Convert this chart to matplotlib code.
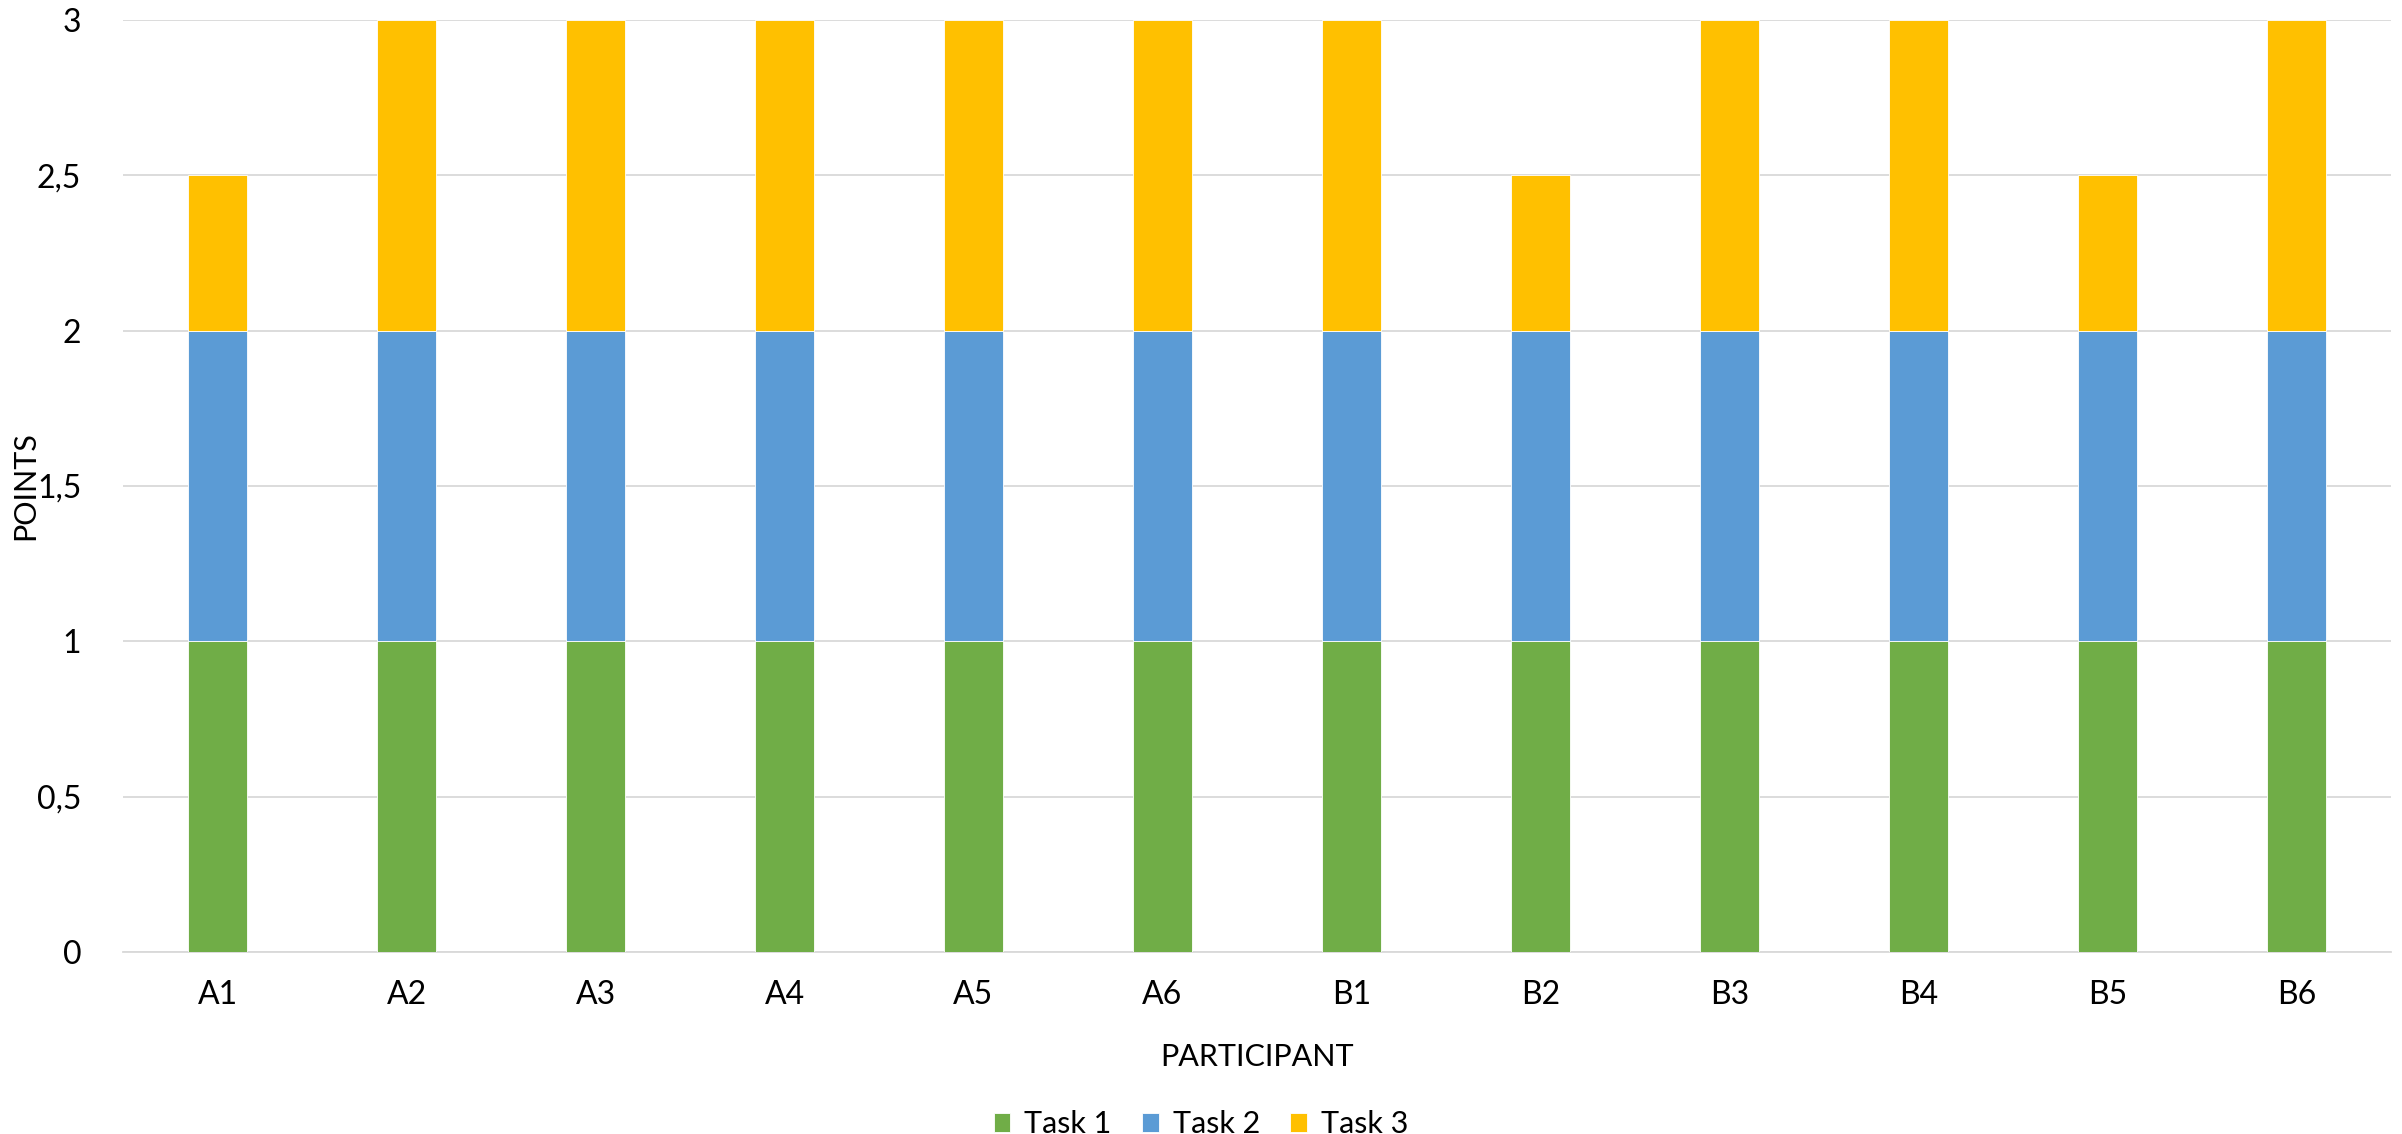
import numpy as np
import matplotlib.pyplot as plt
from matplotlib.ticker import FuncFormatter

plt.rcParams['font.family'] = ['Lato', 'DejaVu Sans']

participants = ['A1', 'A2', 'A3', 'A4', 'A5', 'A6', 'B1', 'B2', 'B3', 'B4', 'B5', 'B6']
task1 = [1, 1, 1, 1, 1, 1, 1, 1, 1, 1, 1, 1]
task2 = [1, 1, 1, 1, 1, 1, 1, 1, 1, 1, 1, 1]
task3 = [0.5, 1, 1, 1, 1, 1, 1, 0.5, 1, 1, 0.5, 1]

colors = ['#70AD47', '#5B9BD5', '#FFC000']

fig = plt.figure(figsize=(24.02, 11.34), dpi=100)
ax = fig.add_axes([0.0512, 0.1605, 0.9442, 0.8219])

x = np.arange(len(participants))
w = 0.31
b1 = ax.bar(x, task1, w, color=colors[0], edgecolor='white', linewidth=0.6, label='Task 1', zorder=3)
b2 = ax.bar(x, task2, w, bottom=task1, color=colors[1], edgecolor='white', linewidth=0.6, label='Task 2', zorder=3)
bottom3 = np.array(task1) + np.array(task2)
b3 = ax.bar(x, task3, w, bottom=bottom3, color=colors[2], edgecolor='white', linewidth=0.6, label='Task 3', zorder=3)

ax.set_xlim(-0.5, len(participants) - 0.5)
ax.set_ylim(0, 3)
ax.set_yticks(np.arange(0, 3.01, 0.5))
ax.yaxis.set_major_formatter(FuncFormatter(lambda v, p: ('%g' % v).replace('.', ',')))
ax.set_xticks(x)
ax.set_xticklabels(participants)

ax.grid(axis='y', color='#D9D9D9', linewidth=1.3, zorder=0)
ax.set_axisbelow(True)
for s in ['top', 'right', 'left']:
    ax.spines[s].set_visible(False)
ax.spines['bottom'].set_color('#D9D9D9')
ax.spines['bottom'].set_linewidth(1.3)
ax.tick_params(axis='both', length=0, labelsize=23, colors='#000000')
ax.tick_params(axis='x', pad=20)
ax.tick_params(axis='y', pad=30)

ax.set_xlabel('PARTICIPANT', fontsize=22, labelpad=24)
ax.set_ylabel('POINTS', fontsize=22)
ax.yaxis.set_label_coords(-0.037, 0.5)

fig.legend(handles=[b1, b2, b3], loc='lower center', bbox_to_anchor=(0.5, -0.028), ncol=3,
           frameon=False, fontsize=22, handlelength=0.55, handleheight=0.55,
           handletextpad=0.45, columnspacing=1.0)

fig.savefig('out.png', dpi=100)
